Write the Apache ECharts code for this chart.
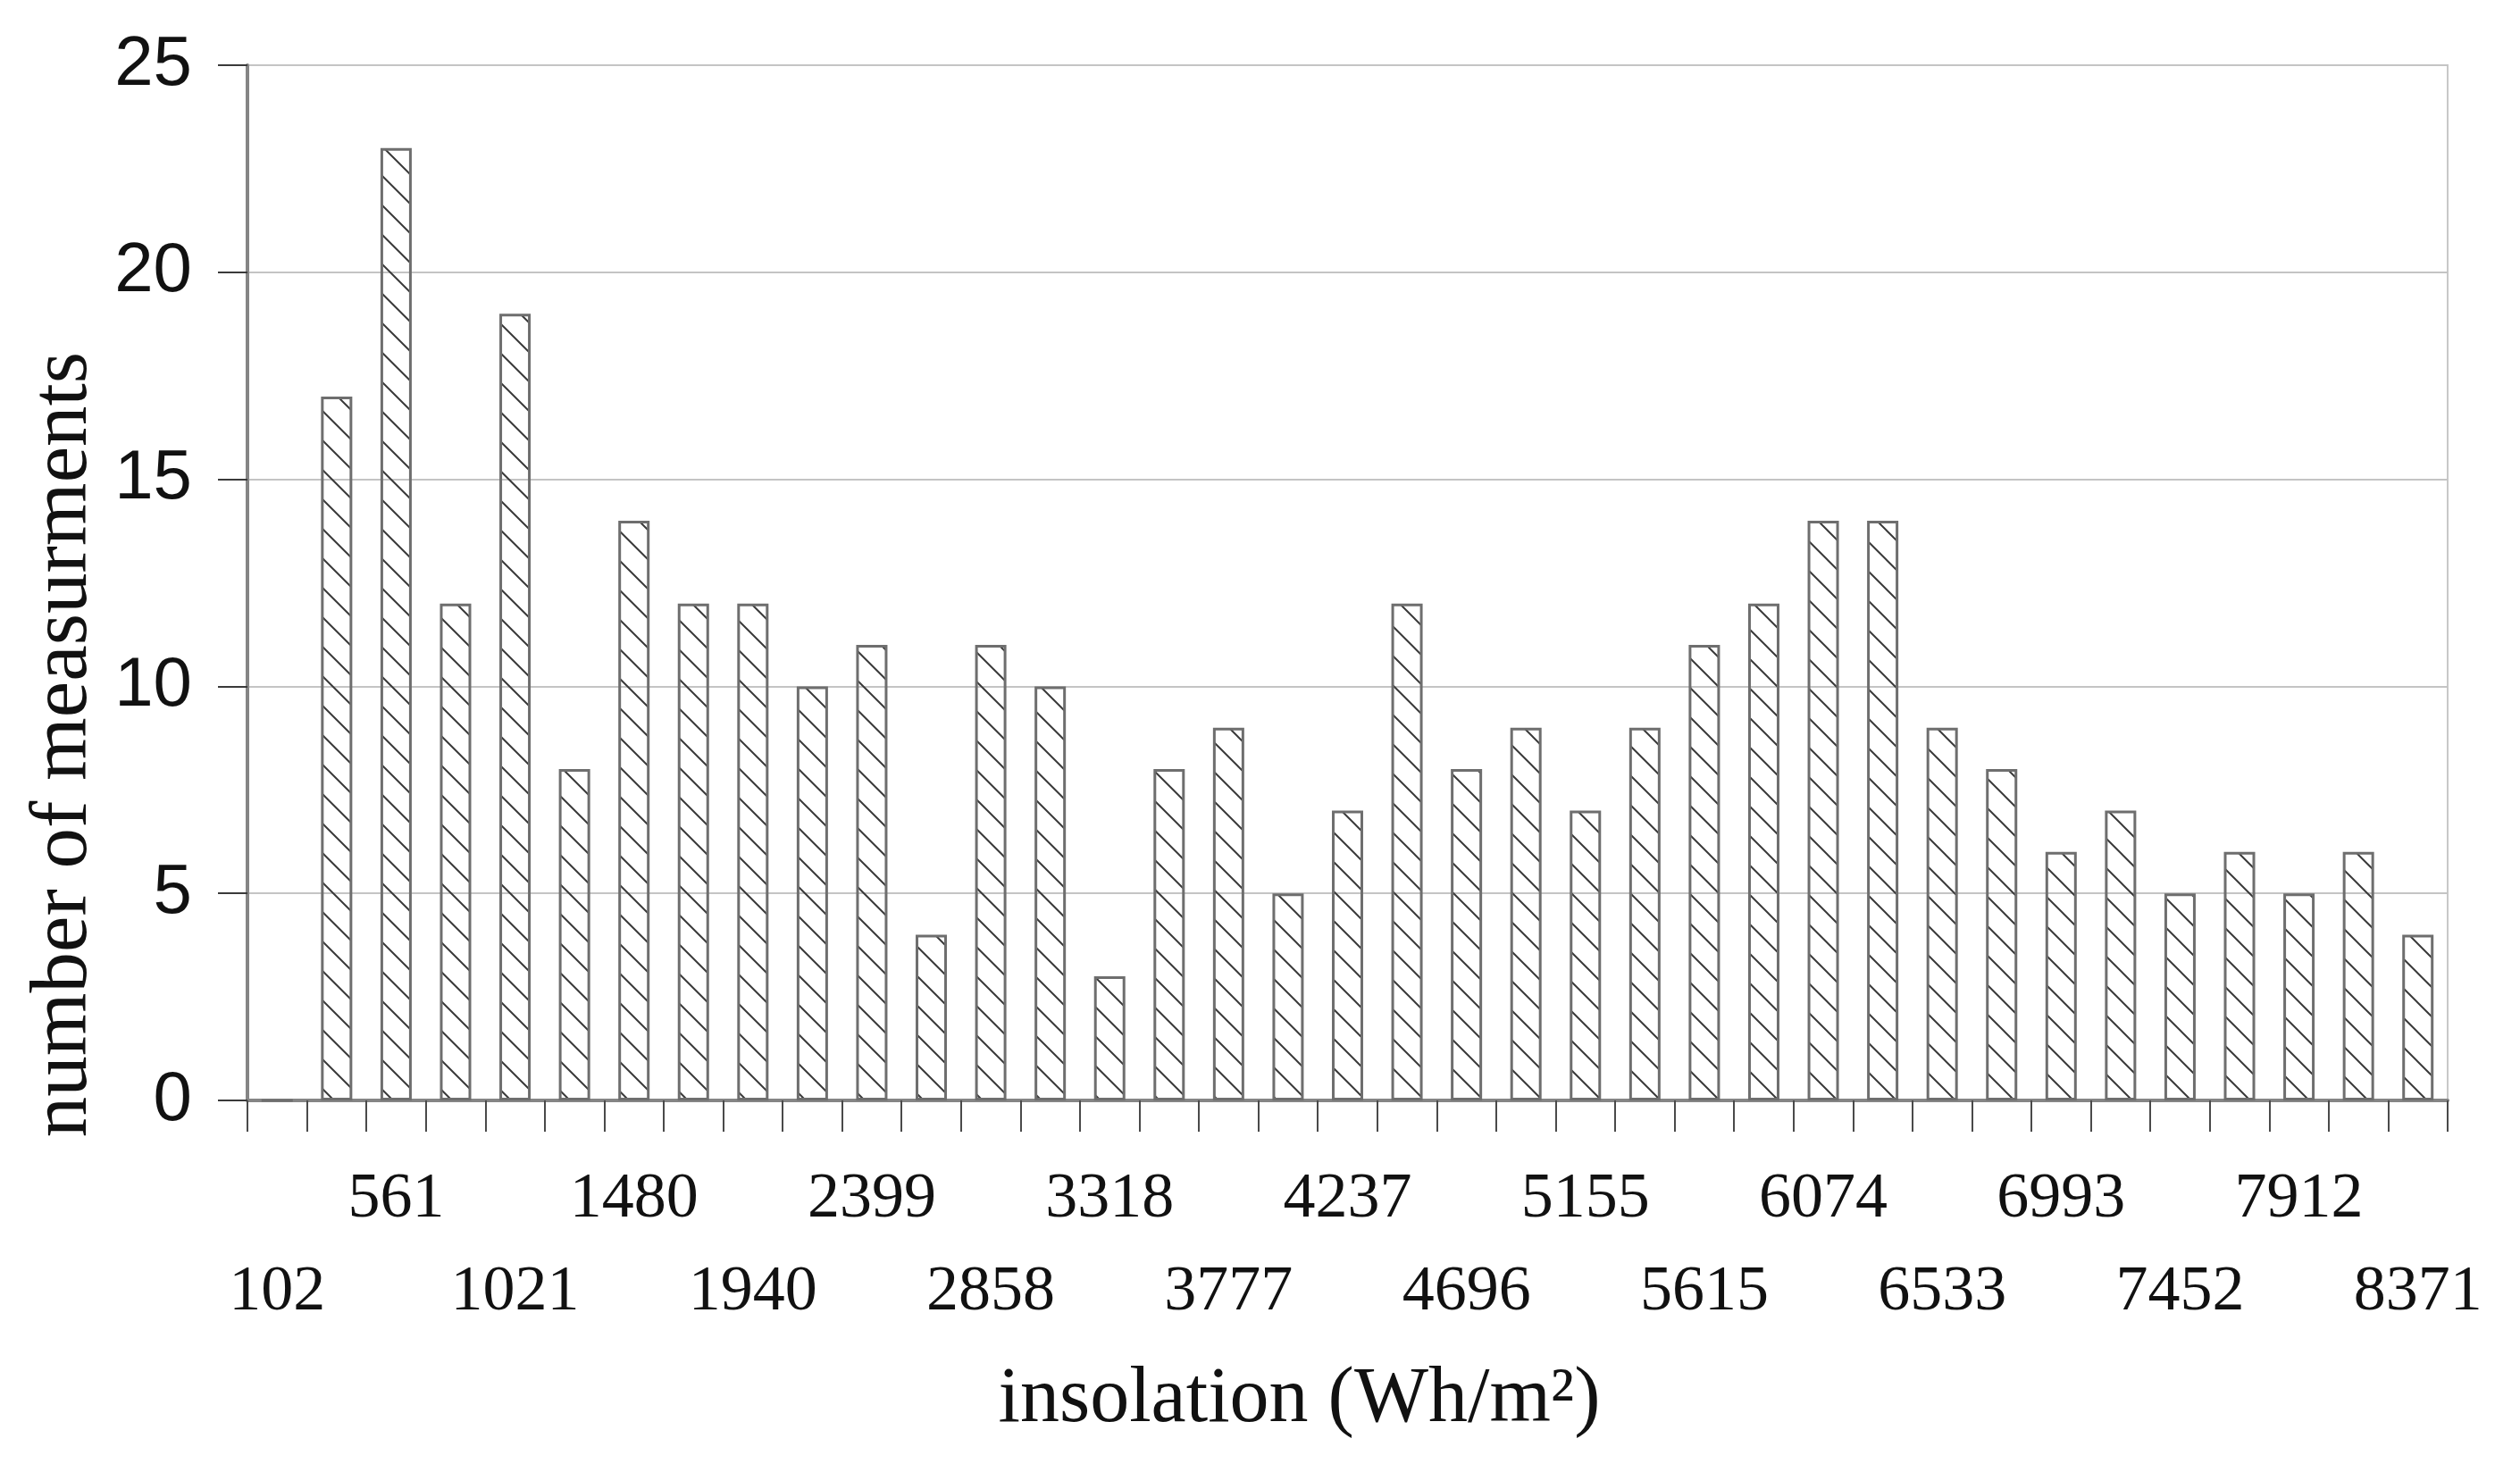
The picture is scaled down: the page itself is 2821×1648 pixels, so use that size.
<!DOCTYPE html>
<html>
<head>
<meta charset="utf-8">
<script src="https://cdn.jsdelivr.net/npm/echarts@6/dist/echarts.min.js"></script>
<style>
html,body{margin:0;padding:0;background:#fff;}
#chart{width:2821px;height:1648px;}
</style>
</head>
<body>
<div id="chart"></div>
<script>
// Bin labels (insolation, Wh/m²); unlabeled bins are blank
const binLabels = ['102','','561','','1021','','1480','','1940','','2399','','2858','','3318','','3777','','4237','','4696','','5155','','5615','','6074','','6533','','6993','','7452','','7912','','8371'];
// Number of measurements per bin
const counts = [0,17,23,12,19,8,14,12,12,10,11,4,11,10,3,8,9,5,7,12,8,9,7,9,11,12,14,14,9,8,6,7,5,6,5,6,4];
const yTicks = [0,5,10,15,20,25];
const xTitle = 'insolation (Wh/m²)';
const yTitle = 'number of measurments';

// Hatch pattern tile
function hatch(){
  const s = 33;
  const c = document.createElement('canvas');
  c.width = s; c.height = s;
  const g = c.getContext('2d');
  g.strokeStyle = '#3a3a3a';
  g.lineWidth = 2;
  g.beginPath();
  g.moveTo(-5,-5); g.lineTo(s+5,s+5);
  g.moveTo(-5,s-5); g.lineTo(5,s+5);
  g.moveTo(s-5,-5); g.lineTo(s+5,5);
  g.stroke();
  return c;
}

const chart = echarts.init(document.getElementById('chart'), null, {renderer:'canvas'});
chart.setOption({
  backgroundColor:'#fff',
  animation:false,
  grid:{left:277,right:81,top:73,bottom:416,show:true,borderColor:'#c8c8c8',borderWidth:2,backgroundColor:'transparent'},
  xAxis:{
    type:'category',
    data:binLabels,
    boundaryGap:true,
    axisLine:{show:true,lineStyle:{color:'#858585',width:4}},
    axisTick:{show:true,alignWithLabel:false,interval:0,length:35,lineStyle:{color:'#4a4a4a',width:2}},
    axisLabel:{
      interval:0,
      hideOverlap:false,
      margin:59,
      fontFamily:'Liberation Serif',
      fontSize:72,
      lineHeight:104,
      color:'#111',
      formatter:function(v,i){
        if(!v) return '';
        return (i%4===0) ? '\u00a0\n'+v : v+'\n\u00a0';
      }
    },
    splitLine:{show:false},
    name:xTitle,
    nameLocation:'middle',
    nameGap:292,
    nameTextStyle:{fontFamily:'Liberation Serif',fontSize:88,color:'#111',padding:[0,108,0,0]}
  },
  yAxis:{
    type:'value',
    min:0,max:25,interval:5,
    axisLine:{show:true,lineStyle:{color:'#858585',width:4}},
    axisTick:{show:true,length:33,lineStyle:{color:'#3a3a3a',width:2}},
    axisLabel:{
      margin:62,
      fontFamily:'Liberation Sans',
      fontSize:78,
      color:'#111',
      formatter:function(v){ return yTicks.indexOf(v)>=0 ? String(v) : ''; }
    },
    splitLine:{show:true,lineStyle:{color:'#c4c4c4',width:2}},
    name:yTitle,
    nameLocation:'middle',
    nameRotate:90,
    nameGap:153,
    nameTextStyle:{fontFamily:'Liberation Serif',fontSize:91,color:'#111',padding:[0,362,0,0]}
  },
  series:[{
    type:'bar',
    data:counts,
    barWidth:35,
    itemStyle:{
      color:{image:hatch(),repeat:'repeat'},
      borderColor:'#6e6e6e',
      borderWidth:3
    }
  }]
});
</script>
</body>
</html>
